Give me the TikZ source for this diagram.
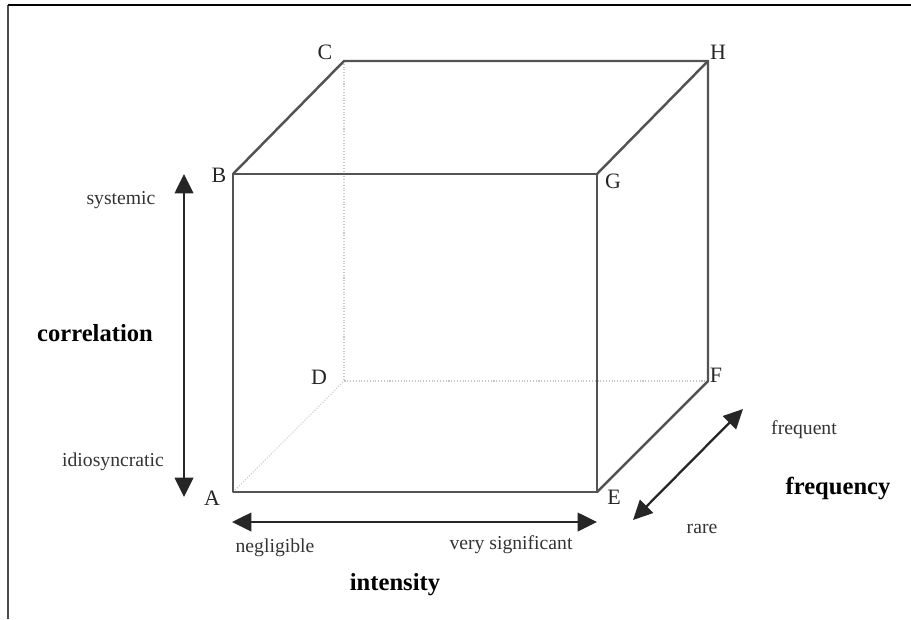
\documentclass[tikz,border=0pt]{standalone}
\usepackage{fontspec}
\setmainfont{Liberation Serif}
\usetikzlibrary{arrows.meta}

\begin{document}
\begin{tikzpicture}[
  x=0.02cm, y=-0.02cm,
  edge/.style={line width=1.4pt, gray!65!black, line cap=round, line join=round},
  hidden/.style={line width=0.6pt, gray!45, densely dotted},
  corner/.style={font=\fontsize{12.5}{14}\selectfont, inner sep=0pt, text=black!85},
  axis/.style={{Triangle[length=11pt,width=10.5pt]}-{Triangle[length=11pt,width=10.5pt]},
               line width=1.3pt, black!85},
  pole/.style={font=\fontsize{11.2}{13}\selectfont, inner sep=0pt, text=black!80},
  dim/.style={font=\bfseries\fontsize{14}{16}\selectfont, inner sep=0pt}
]
\useasboundingbox (0,0) rectangle (911,619);
\draw[line width=0.9pt, gray!60!black] (8,619) -- (8,5);
\draw[line width=1pt, black] (8,5) -- (911,5);

\coordinate (A) at (233,492);
\coordinate (E) at (597,492);
\coordinate (B) at (233,174);
\coordinate (G) at (597,174);
\coordinate (D) at (344,381);
\coordinate (F) at (708,381);
\coordinate (C) at (344,61);
\coordinate (H) at (708,61);

\node[corner] (lA) at (212,498) {A};
\node[corner] (lE) at (614,497) {E};
\node[corner] (lB) at (219,175) {B};
\node[corner] (lG) at (613,181) {G};
\node[corner] (lD) at (319,377) {D};
\node[corner] (lF) at (716,375) {F};
\node[corner] (lC) at (325,52) {C};
\node[corner] (lH) at (718,52) {H};

\draw[hidden] (A) -- (D);
\draw[hidden] (C) -- (D) -- (F);
\draw[edge] (A) -- (E) -- (G) -- (B) -- cycle;
\draw[edge] (B) -- (C) -- (H) -- (G);
\draw[edge] (H) -- (F) -- (E);

\coordinate (corrlo) at (184,497);
\coordinate (corrhi) at (184,174);
\coordinate (intlo) at (232,522);
\coordinate (inthi) at (597,522);
\coordinate (freqlo) at (633,520);
\coordinate (freqhi) at (743,409);
\draw[axis] (corrlo) -- (corrhi);
\draw[axis] (intlo) -- (inthi);
\draw[axis] (freqlo) -- (freqhi);

\node[pole] (systemic) at (121,200) {systemic};
\node[dim] (correlation) at (95,333) {correlation};
\node[pole] (idio) at (113,462) {idiosyncratic};
\node[pole] (negl) at (275,548) {negligible};
\node[pole] (verysig) at (511,545) {very significant};
\node[dim] (intensity) at (395,585) {intensity};
\node[pole] (frequent) at (804,430) {frequent};
\node[dim] (frequency) at (838,488) {frequency};
\node[pole] (rare) at (702,529) {rare};
\end{tikzpicture}
\end{document}
